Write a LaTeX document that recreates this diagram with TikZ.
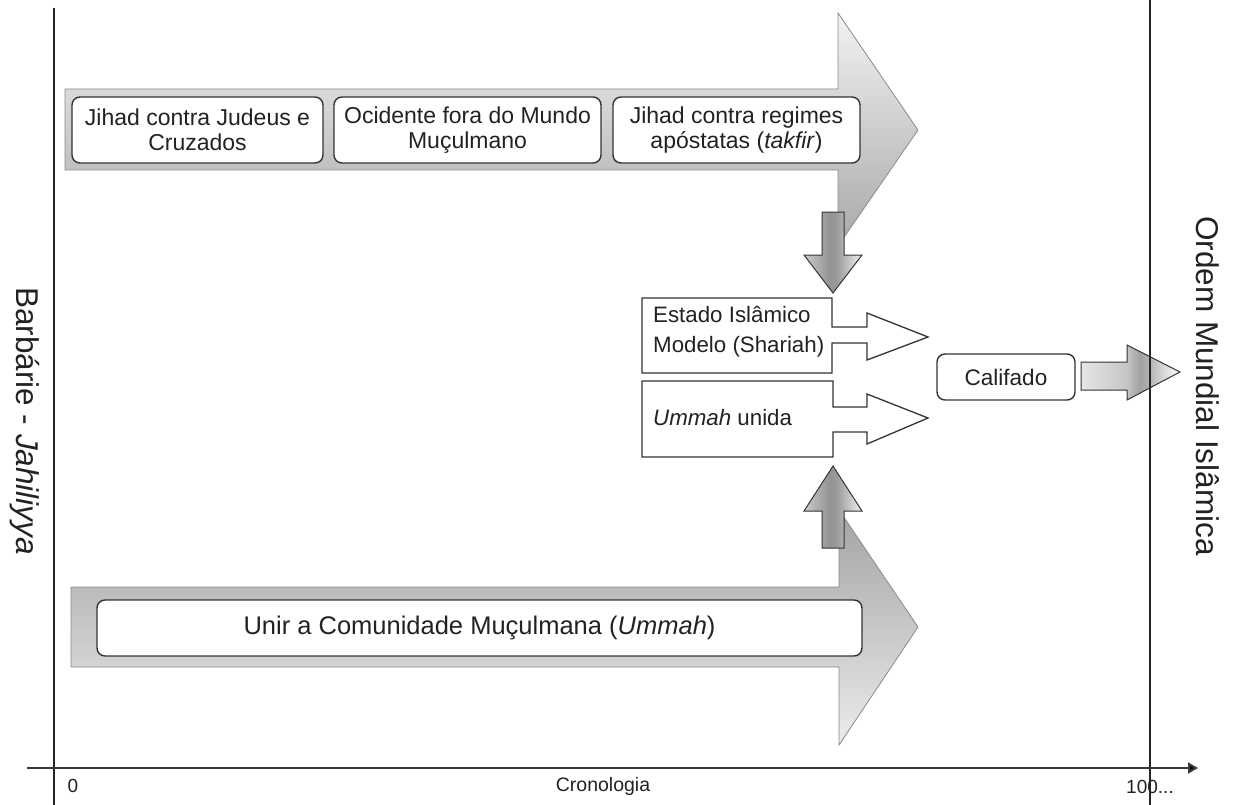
\documentclass[tikz,border=0pt]{standalone}
\usepackage{fontspec}
\setmainfont{Liberation Sans}
\usetikzlibrary{arrows.meta}
\definecolor{boxline}{HTML}{333333}
\definecolor{bigline}{HTML}{8A8A8A}
\definecolor{txt}{HTML}{222222}
\pgfdeclarehorizontalshading{darkmid}{100bp}{color(0bp)=(gray!40); color(25bp)=(gray!40); color(47bp)=(gray!85); color(53bp)=(gray!80); color(75bp)=(gray!10); color(100bp)=(gray!10)}
\pgfdeclarehorizontalshading{califshade}{100bp}{color(0bp)=(gray!20); color(25bp)=(gray!20); color(48bp)=(gray!45); color(55bp)=(gray!75); color(75bp)=(white); color(100bp)=(white)}
\tikzset{
  tbox/.style={draw=boxline, line width=1.4pt, rounded corners=8pt, fill=white, inner sep=0pt, align=center, text=txt},
  sqbox/.style={draw=boxline, line width=1.3pt, fill=white},
  bigarrow/.style={draw=bigline, line width=0.8pt},
  smallarrow/.style={draw=boxline, line width=1pt},
  vline/.style={draw=black!85, line width=1.3pt},
  lbl/.style={inner sep=0pt, text=txt}
}
\begin{document}
\begin{tikzpicture}[x=1pt,y=-1pt]
\useasboundingbox (0,0) rectangle (1236,805);

% big top arrow
\shadedraw[bigarrow, top color=gray!10, bottom color=gray!68]
  (65,89) -- (838,89) -- (838,13) -- (918,130) -- (838,246) -- (838,170) -- (65,170) -- cycle;
% big bottom arrow
\shadedraw[bigarrow, top color=gray!72, bottom color=gray!15]
  (71,587) -- (839,587) -- (839,510) -- (918,627) -- (839,745) -- (839,667) -- (71,667) -- cycle;

% boxes in top arrow
\node[tbox, minimum width=251pt, minimum height=66pt, font=\fontsize{23}{25}\selectfont] (b1) at (197.5,130) {Jihad contra Judeus e\\Cruzados};
\node[tbox, minimum width=267pt, minimum height=66pt, font=\fontsize{23}{25}\selectfont] (b2) at (467.5,130) {Ocidente fora do Mundo\\Muçulmano};
\node[tbox, minimum width=247pt, minimum height=66pt, font=\fontsize{23}{25}\selectfont] (b3) at (736.5,130) {Jihad contra regimes\\apóstatas (\textit{takfir})};

% box in bottom arrow
\node[tbox, minimum width=765pt, minimum height=56pt, font=\fontsize{25.5}{28}\selectfont] (b4) at (479.5,628) {Unir a Comunidade Muçulmana (\textit{Ummah})};

% down arrow
\shadedraw[smallarrow, shading=darkmid]
  (822,212) -- (844,212) -- (844,255) -- (862,255) -- (833,293) -- (804,255) -- (822,255) -- cycle;
% up arrow
\shadedraw[smallarrow, shading=darkmid]
  (822,548) -- (844,548) -- (844,511) -- (862,511) -- (833,466) -- (804,511) -- (822,511) -- cycle;

% Estado Islamico callout
\path[sqbox] (642,298) -- (832,298) -- (832,327) -- (867,327) -- (867,313) -- (928,337) -- (867,360) -- (867,343) -- (832,343) -- (832,373) -- (642,373) -- cycle;
\node[lbl, anchor=west, align=left, font=\fontsize{22.3}{30}\selectfont] (estado) at (653,332) {Estado Islâmico\\Modelo (Shariah)};

% Ummah unida callout
\path[sqbox] (642,381) -- (833,381) -- (833,407) -- (867,407) -- (867,394) -- (928,418) -- (867,444) -- (867,432) -- (833,432) -- (833,457) -- (642,457) -- cycle;
\node[lbl, anchor=west, font=\fontsize{22.3}{26}\selectfont] (ummah) at (653,418) {\textit{Ummah} unida};

% Califado
\node[tbox, minimum width=138pt, minimum height=46pt, font=\fontsize{22.5}{26}\selectfont] (calif) at (1006,377) {Califado};
\shadedraw[smallarrow, shading=califshade]
  (1081,362) -- (1127,362) -- (1127,345) -- (1180,372) -- (1127,400) -- (1127,390) -- (1081,390) -- cycle;

% vertical boundary lines
\draw[vline] (54,8) -- (54,805);
\draw[vline] (1150,0) -- (1150,805);

% time axis
\coordinate (ax0) at (27,768);
\coordinate (ax1) at (1198,768);
\draw[draw=gray!45!black, line width=2pt, -{Triangle[length=10pt,width=11pt,fill=black]}] (ax0) -- (ax1);
\node[lbl, font=\fontsize{19}{22}\selectfont] (zero) at (73,786) {0};
\node[lbl, font=\fontsize{19.5}{22}\selectfont] (crono) at (603,786) {Cronologia};
\node[lbl, font=\fontsize{19}{22}\selectfont] (cem) at (1150,787) {100...};

% side titles
\node[lbl, rotate=-90, font=\fontsize{31.5}{36}\selectfont] (barb) at (25,421) {Barbárie - \textit{Jahiliyya}};
\node[lbl, rotate=-90, font=\fontsize{31.5}{36}\selectfont] (ordem) at (1208,386) {Ordem Mundial Islâmica};
\end{tikzpicture}
\end{document}
